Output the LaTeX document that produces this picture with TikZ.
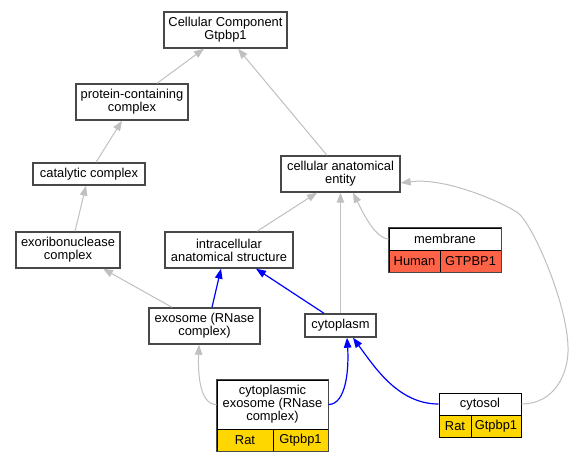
\documentclass[tikz,border=0pt]{standalone}
\usepackage{fontspec}
\setmainfont{Liberation Sans}
\usetikzlibrary{arrows.meta}
\definecolor{edgegray}{HTML}{C0C0C0}
\definecolor{edgeblue}{HTML}{0000FF}
\definecolor{boxline}{HTML}{484848}
\definecolor{tomatofill}{HTML}{FF6347}
\definecolor{goldfill}{HTML}{FFD700}
\tikzset{
  term/.style={draw=boxline, line width=1.4pt, fill=white, inner sep=0pt, align=center,
    font=\fontsize{12.9}{13}\selectfont},
  cell/.style={draw=black, line width=1pt, inner sep=0pt, align=center,
    font=\fontsize{12.9}{13}\selectfont},
  isa/.style={draw=edgegray, line width=1pt, -{Triangle[length=10pt,width=7.5pt]}, fill=none},
  ann/.style={draw=edgeblue, line width=1.2pt, -{Triangle[length=10pt,width=7.5pt]}, fill=none},
}
\begin{document}
\begin{tikzpicture}[x=1pt,y=-1pt]
\useasboundingbox (0,0) rectangle (573,461);
\fill[white] (0,0) rectangle (573,461);

% nodes
\node[term, minimum width=123pt, minimum height=36pt] (cc) at (225.5,30) {Cellular Component\\Gtpbp1};
\node[term, minimum width=112pt, minimum height=36pt] (pc) at (132,102) {protein-containing\\complex};
\node[term, minimum width=112pt, minimum height=22pt] (cat) at (89,174) {catalytic complex};
\node[term, minimum width=119pt, minimum height=36pt] (cae) at (340.5,174) {cellular anatomical\\entity};
\node[term, minimum width=104pt, minimum height=36pt] (exo) at (68,250) {exoribonuclease\\complex};
\node[term, minimum width=128pt, minimum height=36pt] (ias) at (229,250) {intracellular\\anatomical structure};
\node[term, minimum width=111pt, minimum height=36pt] (exs) at (204.5,326) {exosome (RNase\\complex)};
\node[term, minimum width=71pt, minimum height=23pt] (cyt) at (340.5,325.5) {cytoplasm};

% membrane
\node[cell, fill=white, minimum width=112pt, minimum height=22pt] (mem) at (445,239) {membrane};
\node[cell, fill=tomatofill, minimum width=51pt, minimum height=22pt] (memh) at (414.5,261) {Human};
\node[cell, fill=tomatofill, minimum width=61pt, minimum height=22pt] (memg) at (470.5,261) {GTPBP1};
\draw[boxline, line width=1.4pt] (mem.north west) rectangle (memg.south east);

% cytoplasmic exosome
\node[cell, fill=white, minimum width=111pt, minimum height=49pt] (cex) at (272.5,404.5) {cytoplasmic\\exosome (RNase\\complex)};
\node[cell, fill=goldfill, minimum width=56pt, minimum height=22pt] (cexr) at (245,440) {Rat};
\node[cell, fill=goldfill, minimum width=55pt, minimum height=22pt] (cexg) at (300.5,440) {Gtpbp1};
\draw[boxline, line width=1.4pt] (cex.north west) rectangle (cexg.south east);

% cytosol
\node[cell, fill=white, minimum width=82pt, minimum height=22pt] (cys) at (480,404) {cytosol};
\node[cell, fill=goldfill, minimum width=32pt, minimum height=22pt] (cysr) at (455,426) {Rat};
\node[cell, fill=goldfill, minimum width=50pt, minimum height=22pt] (cysg) at (496,426) {Gtpbp1};

% edges (gray)
\draw[isa] ([xshift=25pt]pc.north) -- ([xshift=-21.5pt]cc.south);
\draw[isa] ([xshift=-13.5pt]cae.north) -- ([xshift=12.5pt]cc.south);
\draw[isa] ([xshift=7pt]cat.north) -- ([xshift=-10pt]pc.south);
\draw[isa] ([xshift=7pt]exo.north) -- ([xshift=-3pt]cat.south);
\draw[isa] ([xshift=28pt]ias.north) -- ([xshift=-23.5pt]cae.south);
\draw[isa] (cyt.north) -- (cae.south);
\draw[isa] (mem.west) .. controls ++(-14,-1) and ++(9,18) .. ([xshift=12.5pt]cae.south);
\draw[isa] (cys.east) .. controls ++(34,0) and ++(1,25) .. (568,347)
  .. controls ++(-1,-45) and ++(14,10) .. (518,213)
  .. controls ++(-14,-10) and ++(45,-6) .. ([yshift=-9pt]cae.east);
\draw[isa] ([xshift=-32.5pt]exs.north) -- ([xshift=35pt]exo.south);
\draw[isa] (cex.west) .. controls ++(-18,0) and ++(-1,25) .. ([xshift=-5.5pt]exs.south);

% edges (blue)
\draw[ann] ([xshift=7.5pt]exs.north) -- ([xshift=-8pt]ias.south);
\draw[ann] ([xshift=-16.5pt]cyt.north) -- ([xshift=27pt]ias.south);
\draw[ann] (cex.east) .. controls ++(18,0) and ++(2,30) .. ([xshift=6.5pt]cyt.south);
\draw[ann] (cys.west) .. controls ++(-40,0) and ++(22,30) .. ([xshift=12.5pt]cyt.south);
\end{tikzpicture}
\end{document}
